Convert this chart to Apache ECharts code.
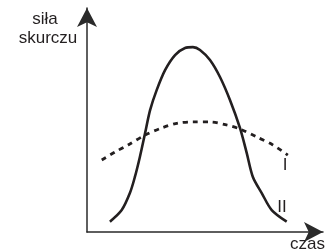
<!DOCTYPE html>
<html>
<head>
<meta charset="utf-8">
<script src="https://cdn.jsdelivr.net/npm/echarts@6/dist/echarts.min.js"></script>
<style>
  html, body { margin: 0; padding: 0; background: #fff; }
  #chart { width: 328px; height: 251px; }
</style>
</head>
<body>
<div id="chart"></div>
<script>
// krzywa II: skurcz szybki, wysoki
const curveII = [
  [10.1, 4.8], [15.3, 10.2], [18.9, 18.1], [21.1, 25.6], [23.3, 34.9],
  [25.6, 46.0], [27.8, 56.7], [30.7, 66.0], [34.4, 75.3], [38.8, 82.3],
  [43.2, 85.6], [46.7, 86.0], [49.8, 84.7], [54.2, 80.0], [58.6, 72.1],
  [63.0, 61.4], [67.4, 48.4], [70.4, 36.7], [73.1, 25.6], [77.0, 18.1],
  [81.4, 10.2], [88.0, 4.8]
]
// krzywa I: skurcz wolny, płaski
const curveI = [
  [6.5, 33.5], [12.3, 37.2], [18.1, 40.5], [25.6, 45.1], [32.9, 48.4],
  [40.1, 50.7], [46.7, 51.2], [54.2, 51.2], [61.5, 49.8], [67.4, 47.9],
  [74.8, 44.2], [81.9, 40.5], [88.5, 35.8]
]
const seriesNames = ['I', 'II']
const xName = 'czas'
const yNameLines = ['siła', 'skurczu']

const ink = '#231f20'
const font = '"Liberation Sans", Arial, sans-serif'

const chart = echarts.init(document.getElementById('chart'), null, { renderer: 'canvas' })

const axisLine = {
  show: true,
  symbol: ['none', 'arrow'],
  symbolSize: [15, 19],
  lineStyle: { color: '#2a2a2a', width: 1.5 }
}

chart.setOption({
  animation: false,
  grid: { left: 87, right: 5, top: 8, bottom: 19 },
  xAxis: {
    type: 'value', min: 0, max: 104,
    axisLine: axisLine,
    axisTick: { show: false }, axisLabel: { show: false }, splitLine: { show: false }
  },
  yAxis: {
    type: 'value', min: 0, max: 104.2,
    axisLine: axisLine,
    axisTick: { show: false }, axisLabel: { show: false }, splitLine: { show: false }
  },
  graphic: [
    { type: 'text', left: 290, top: 236, style: { text: xName, font: '17px ' + font, fill: ink } },
    { type: 'text', x: 45, y: 28, style: { text: yNameLines[0], font: '17px ' + font, fill: ink, textAlign: 'center', textVerticalAlign: 'bottom' } },
    { type: 'text', x: 48, y: 47, style: { text: yNameLines[1], font: '17px ' + font, fill: ink, textAlign: 'center', textVerticalAlign: 'bottom' } },
    { type: 'text', x: 285, y: 165, style: { text: seriesNames[0], font: '17px ' + font, fill: ink, textAlign: 'center', textVerticalAlign: 'middle' } },
    { type: 'text', x: 282, y: 207, style: { text: seriesNames[1], font: '17px ' + font, fill: ink, textAlign: 'center', textVerticalAlign: 'middle' } }
  ],
  series: [
    {
      name: seriesNames[0], type: 'line', data: curveI, smooth: 0.3,
      showSymbol: false,
      lineStyle: { color: ink, width: 2.8, type: [5, 5] }
    },
    {
      name: seriesNames[1], type: 'line', data: curveII, smooth: 0.3,
      showSymbol: false,
      lineStyle: { color: ink, width: 2.6 }
    }
  ]
})
</script>
</body>
</html>
